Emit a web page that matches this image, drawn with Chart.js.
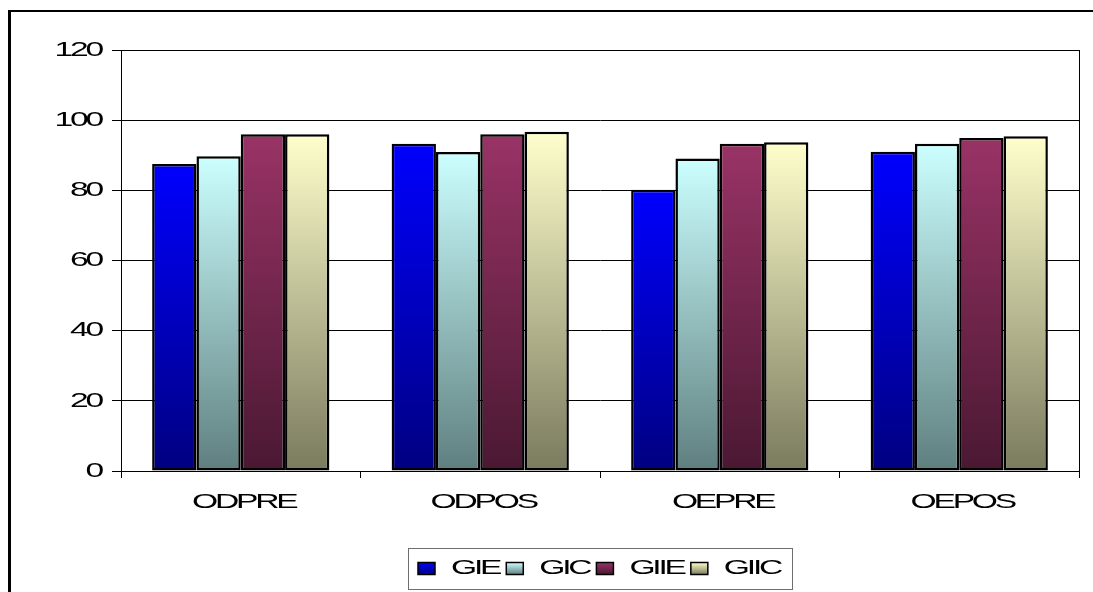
<!DOCTYPE html>
<html>
<head>
<meta charset="utf-8">
<script src="https://cdn.jsdelivr.net/npm/chart.js@4/dist/chart.umd.min.js"></script>
<style>
  html, body { margin: 0; padding: 0; background: #fff; overflow: hidden; }
  #frame { position: absolute; left: 8px; top: 10px; width: 1200px; height: 700px;
           border-left: 3px solid #000; border-top: 2px solid #000; }
  #wrap { position: absolute; left: 0; top: 0; width: 1093px; height: 592px; }
</style>
</head>
<body>
<div id="frame"></div>
<div id="wrap"><canvas id="c" width="1093" height="592"></canvas></div>
<script>
// Categories and series
const categories = ['ODPRE', 'ODPOS', 'OEPRE', 'OEPOS'];
const seriesNames = ['GIE', 'GIC', 'GIIE', 'GIIC'];
const gie  = [87.5, 93.3, 80.2, 91.0];
const gic  = [89.7, 90.9, 89.1, 93.3];
const giie = [96.0, 96.0, 93.3, 94.9];
const giic = [96.0, 96.7, 93.7, 95.4];
const yTickValues = [0, 20, 40, 60, 80, 100, 120];

// Top / bottom shades of each series' vertical gradient
const shades = [
  ['#0000FF', '#000080'],
  ['#CCFFFF', '#5F7F7F'],
  ['#993366', '#4A1832'],
  ['#FFFFCC', '#7A7A5E']
];

const FONT = '21px "Liberation Sans", Arial, sans-serif';
const STRETCH = 1.6;
const SPACING = '-2px';

function setFont(ctx) {
  ctx.font = FONT;
  if ('letterSpacing' in ctx) ctx.letterSpacing = SPACING;
}

function textWidth(ctx, text) {
  ctx.save();
  setFont(ctx);
  const w = ctx.measureText(text).width * STRETCH;
  ctx.restore();
  return w;
}

// Wide, tightly spaced label text
function stretchedText(ctx, text, x, y, align) {
  const w = textWidth(ctx, text);
  ctx.save();
  setFont(ctx);
  ctx.fillStyle = '#000';
  ctx.textBaseline = 'middle';
  ctx.textAlign = 'left';
  let left = x;
  if (align === 'right') left = x - w;
  else if (align === 'center') left = x - w / 2;
  ctx.translate(left, y);
  ctx.scale(STRETCH, 1);
  ctx.fillText(text, 0, 0);
  ctx.restore();
  return w;
}

function barFill(idx) {
  return (c) => {
    const chart = c.chart;
    const y = chart.scales && chart.scales.y;
    if (!y || c.type !== 'data' || !chart.chartArea) return shades[idx][0];
    const top = y.getPixelForValue(c.raw);
    const bot = y.getPixelForValue(0);
    const g = chart.ctx.createLinearGradient(0, top, 0, bot);
    g.addColorStop(0, shades[idx][0]);
    g.addColorStop(1, shades[idx][1]);
    return g;
  };
}

// Plot frame, axis labels and boxed legend
const decor = {
  id: 'decor',
  beforeDatasetsDraw(chart) {
    const { ctx, chartArea: a } = chart;
    ctx.save();
    ctx.strokeStyle = '#000';
    ctx.lineWidth = 1;
    ctx.strokeRect(Math.round(a.left) + 0.5, Math.round(a.top) + 0.5,
                   Math.round(a.right - a.left), Math.round(a.bottom - a.top));
    ctx.restore();
  },
  afterDraw(chart) {
    const { ctx, chartArea: a } = chart;
    const ys = chart.scales.y, xs = chart.scales.x;
    ys.ticks.forEach((t, i) => {
      stretchedText(ctx, String(t.value), a.left - 20, ys.getPixelForTick(i), 'right');
    });
    xs.ticks.forEach((t, i) => {
      stretchedText(ctx, categories[i], xs.getPixelForTick(i) + 3, a.bottom + 31, 'center');
    });

    // legend
    const sw = 17, sh = 12, gapA = 16, gapB = 7, padL = 10, padR = 12;
    const widths = seriesNames.map(s => textWidth(ctx, s));
    let total = padL + padR;
    widths.forEach((w, i) => { total += sw + gapA + w + (i < widths.length - 1 ? gapB : 0); });
    const cx = (a.left + a.right) / 2;
    const left = Math.round(cx - total / 2);
    const top = 548, h = 41, cy = top + h / 2;
    ctx.save();
    ctx.strokeStyle = '#6E6E6E';
    ctx.lineWidth = 1;
    ctx.strokeRect(left + 0.5, top + 0.5, Math.round(total), h);
    ctx.restore();
    let x = left + padL;
    seriesNames.forEach((s, i) => {
      ctx.save();
      const g = ctx.createLinearGradient(0, cy - sh / 2, 0, cy + sh / 2);
      g.addColorStop(0, shades[i][0]);
      g.addColorStop(1, shades[i][1]);
      ctx.fillStyle = g;
      ctx.fillRect(x, cy - sh / 2, sw, sh);
      ctx.strokeStyle = '#000';
      ctx.lineWidth = 1.5;
      ctx.strokeRect(x, cy - sh / 2, sw, sh);
      ctx.restore();
      x += sw + gapA;
      stretchedText(ctx, s, x, cy, 'left');
      x += widths[i] + gapB;
    });
  }
};

const seriesValues = [gie, gic, giie, giic];

new Chart(document.getElementById('c'), {
  type: 'bar',
  data: {
    labels: categories,
    datasets: seriesValues.map((vals, i) => ({
      label: seriesNames[i],
      data: vals,
      backgroundColor: barFill(i),
      borderColor: '#000',
      borderWidth: 2.5,
      borderSkipped: false,
      categoryPercentage: 0.74,
      barPercentage: 1.0
    }))
  },
  options: {
    responsive: false,
    animation: false,
    layout: { padding: { left: 0, top: 50, right: 14, bottom: 0 } },
    plugins: { legend: { display: false }, tooltip: { enabled: false } },
    scales: {
      x: {
        grid: { display: true, offset: true, drawOnChartArea: false, drawTicks: true,
                tickLength: 7, color: '#000', lineWidth: 1 },
        border: { display: true, color: '#000', width: 1 },
        ticks: { display: false },
        afterFit(s) { s.height = 121; }
      },
      y: {
        min: 0,
        max: 120,
        afterBuildTicks(s) { s.ticks = yTickValues.map(v => ({ value: v })); },
        grid: { color: '#000', lineWidth: 1, drawTicks: true, tickLength: 9 },
        border: { display: true, color: '#000', width: 1 },
        ticks: { display: false },
        afterFit(s) { s.width = 121; }
      }
    }
  },
  plugins: [decor]
});
</script>
</body>
</html>
